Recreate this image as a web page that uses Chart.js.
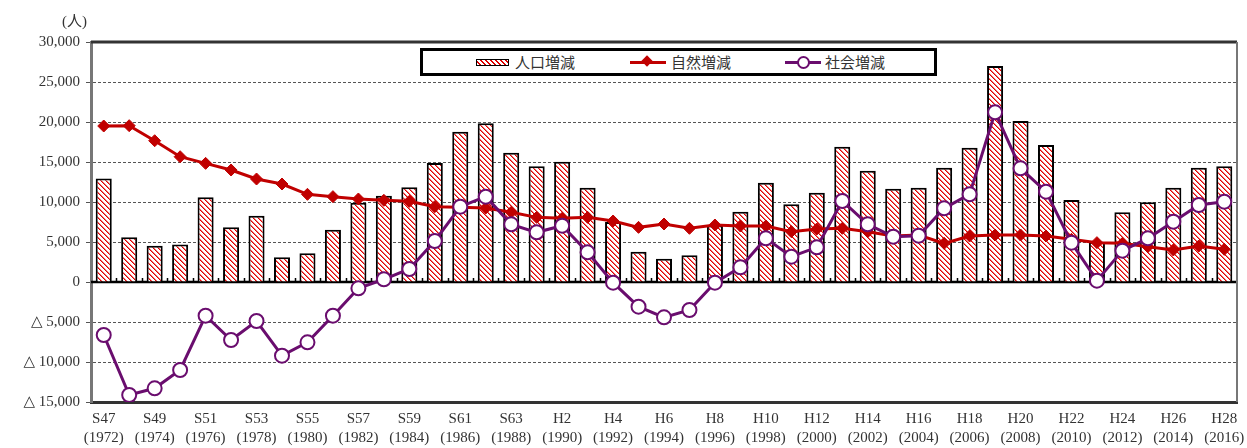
<!DOCTYPE html>
<html>
<head>
<meta charset="utf-8">
<script src="https://cdn.jsdelivr.net/npm/chart.js@4/dist/chart.umd.min.js"></script>
<style>
  html, body { margin: 0; padding: 0; background: #fff; }
  #wrap { position: relative; width: 1247px; height: 448px; }
  #unit { position: absolute; left: 62px; top: 9px; font: 15px "Liberation Serif", "Noto Sans CJK JP", serif; color: #333; }
  #legend {
    position: absolute; left: 420px; top: 48px; width: 511px; height: 22px;
    border: 3px solid #000; background: #fff;
    font: 15px "Noto Sans CJK JP", sans-serif; color: #333;
  }
  .item { position: absolute; top: 0; height: 22px; line-height: 22px; }
  .sw { position: absolute; top: 50%; }
  .hatch { width: 31px; height: 5px; margin-top: -3px; border: 1px solid #000;
    background: repeating-linear-gradient(45deg, #fff 0 2px, #e00000 2px 3.5px); }
  .ln { width: 36px; height: 3px; margin-top: -1.5px; }
  .dia { position: absolute; left: 13px; top: -3.5px; width: 8px; height: 8px; background: #c00000; transform: rotate(45deg); }
  .circ { position: absolute; left: 12px; top: -5px; width: 9px; height: 9px; border: 2px solid #6a0d6e; border-radius: 50%; background: #fff; }
</style>
</head>
<body>
<div id="wrap">
  <canvas id="chart" width="1247" height="448"></canvas>
  <div id="unit">(人)</div>
  <div id="legend">
    <div class="item" style="left:53px"><div class="sw hatch"></div></div>
    <div class="item" style="left:92px">人口増減</div>
    <div class="item" style="left:207px"><div class="sw ln" style="background:#c00000"><div class="dia"></div></div></div>
    <div class="item" style="left:248px">自然増減</div>
    <div class="item" style="left:362px"><div class="sw ln" style="background:#6a0d6e"><div class="circ"></div></div></div>
    <div class="item" style="left:402px">社会増減</div>
  </div>
</div>
<script>
const years = [1972,1973,1974,1975,1976,1977,1978,1979,1980,1981,
  1982,1983,1984,1985,1986,1987,1988,1989,1990,1991,
  1992,1993,1994,1995,1996,1997,1998,1999,2000,2001,
  2002,2003,2004,2005,2006,2007,2008,2009,2010,2011,
  2012,2013,2014,2015,2016];
const eras = ["S47","S48","S49","S50","S51","S52","S53","S54","S55","S56",
  "S57","S58","S59","S60","S61","S62","S63","H1","H2","H3",
  "H4","H5","H6","H7","H8","H9","H10","H11","H12","H13",
  "H14","H15","H16","H17","H18","H19","H20","H21","H22","H23",
  "H24","H25","H26","H27","H28"];

// 人口増減
const popChange = [12950,5580,4540,4700,10580,6830,8290,3080,3580,6540,
  9920,10790,11830,14875,18790,19830,16170,14460,15040,11790,
  7500,3790,2920,3330,7050,8790,12420,9710,11170,16920,
  13920,11670,11790,14290,16790,27000,20125,17125,10250,5000,
  8710,9960,11790,14290,14460];
// 自然増減
const natChange = [19500,19540,17660,15660,14830,14000,12875,12250,10960,10670,
  10375,10210,10080,9420,9330,9250,8710,8080,7960,8080,
  7625,6830,7250,6710,7125,7000,7000,6290,6625,6710,
  6290,5750,5875,4830,5750,5875,5875,5750,5330,4920,
  4830,4420,4000,4500,4080];
// 社会増減
const socChange = [-6625,-14125,-13290,-11000,-4210,-7250,-4875,-9210,-7540,-4210,
  -790,340,1625,5125,9420,10670,7210,6210,7040,3710,
  -80,-3080,-4420,-3500,-80,1830,5460,3170,4330,10125,
  7210,5670,5790,9210,10960,21210,14210,11290,4920,170,
  3920,5460,7540,9625,10040];

const RED = "#c00000";
const PURPLE = "#6a0d6e";
const TICK_FONT = { family: "'Liberation Serif', 'DejaVu Serif', serif", size: 15 };

function hatchPattern(){
  const size = 5;
  const c = document.createElement("canvas");
  c.width = c.height = size;
  const g = c.getContext("2d");
  g.fillStyle = "#fff";
  g.fillRect(0, 0, size, size);
  for (let y = 0; y < size; y++){
    for (let x = 0; x < size; x++){
      const d = ((x - y) % size + size) % size;
      if (d === 0) { g.fillStyle = "#e00000"; g.fillRect(x, y, 1, 1); }
      else if (d === 1) { g.fillStyle = "#f07070"; g.fillRect(x, y, 1, 1); }
    }
  }
  return g.createPattern(c, "repeat");
}

function fmt(v){
  const s = Math.abs(v).toLocaleString("en-US");
  return v < 0 ? "△ " + s : s;
}

// zero line, category ticks on it, top/right frame
const frame = {
  id: "frame",
  beforeDatasetsDraw(chart){
    const {ctx, chartArea: a, scales: {x, y}} = chart;
    const y0 = y.getPixelForValue(0);
    ctx.save();
    ctx.strokeStyle = "#000";
    ctx.lineWidth = 2.5;
    ctx.beginPath();
    ctx.moveTo(a.left, y0); ctx.lineTo(a.right, y0);
    ctx.stroke();
    ctx.lineWidth = 1.5;
    ctx.beginPath();
    for (let i = 1; i < years.length; i++){
      const px = Math.round((x.getPixelForValue(i - 1) + x.getPixelForValue(i)) / 2) + 0.5;
      ctx.moveTo(px, y0); ctx.lineTo(px, y0 - 4);
    }
    ctx.stroke();
    ctx.restore();
  },
  afterDraw(chart){
    const {ctx, chartArea: a} = chart;
    ctx.save();
    ctx.strokeStyle = "#333";
    ctx.lineWidth = 3;
    ctx.beginPath();
    ctx.moveTo(a.left, a.top); ctx.lineTo(a.right, a.top);
    ctx.stroke();
    ctx.strokeStyle = "#777";
    ctx.lineWidth = 2;
    ctx.beginPath();
    ctx.moveTo(a.right, a.top); ctx.lineTo(a.right, a.bottom);
    ctx.stroke();
    ctx.restore();
  }
};

const ctx = document.getElementById("chart").getContext("2d");
new Chart(ctx, {
  data: {
    labels: years,
    datasets: [
      { type: "line", label: "社会増減", data: socChange, order: 0,
        borderColor: PURPLE, borderWidth: 3, tension: 0,
        pointStyle: "circle", pointRadius: 7, pointBorderWidth: 2,
        pointBackgroundColor: "#fff", pointBorderColor: PURPLE },
      { type: "line", label: "自然増減", data: natChange, order: 1,
        borderColor: RED, borderWidth: 3, tension: 0,
        pointStyle: "rectRot", pointRadius: 6, pointBorderWidth: 1,
        pointBackgroundColor: RED, pointBorderColor: RED },
      { type: "bar", label: "人口増減", data: popChange, order: 2,
        backgroundColor: hatchPattern(), borderColor: "#000", borderWidth: 2,
        barPercentage: 0.63, categoryPercentage: 1 }
    ]
  },
  options: {
    responsive: false,
    animation: false,
    layout: { padding: { top: 42, right: 10, left: 0, bottom: 0 } },
    plugins: { legend: { display: false }, tooltip: { enabled: false } },
    scales: {
      x: {
        grid: { display: false },
        border: { color: "#333", width: 3 },
        ticks: {
          autoSkip: false, maxRotation: 0, minRotation: 0, padding: 0,
          color: "#333", font: { ...TICK_FONT, lineHeight: 1.25 },
          callback: (v, i) => i % 2 === 0 ? [eras[i], "(" + years[i] + ")"] : ""
        },
        afterFit(s){ s.height = 46; }
      },
      y: {
        min: -15000, max: 30000,
        grid: {
          color: c => c.tick && c.tick.value === 0 ? "rgba(0,0,0,0)" : "#555",
          tickColor: "#555", tickLength: 5, lineWidth: 1
        },
        border: { color: "#777", width: 3, dash: [3, 2] },
        ticks: { stepSize: 5000, padding: 6, color: "#333", font: TICK_FONT, callback: v => fmt(v) },
        afterFit(s){ s.width = 91; }
      }
    }
  },
  plugins: [frame]
});
</script>
</body>
</html>
